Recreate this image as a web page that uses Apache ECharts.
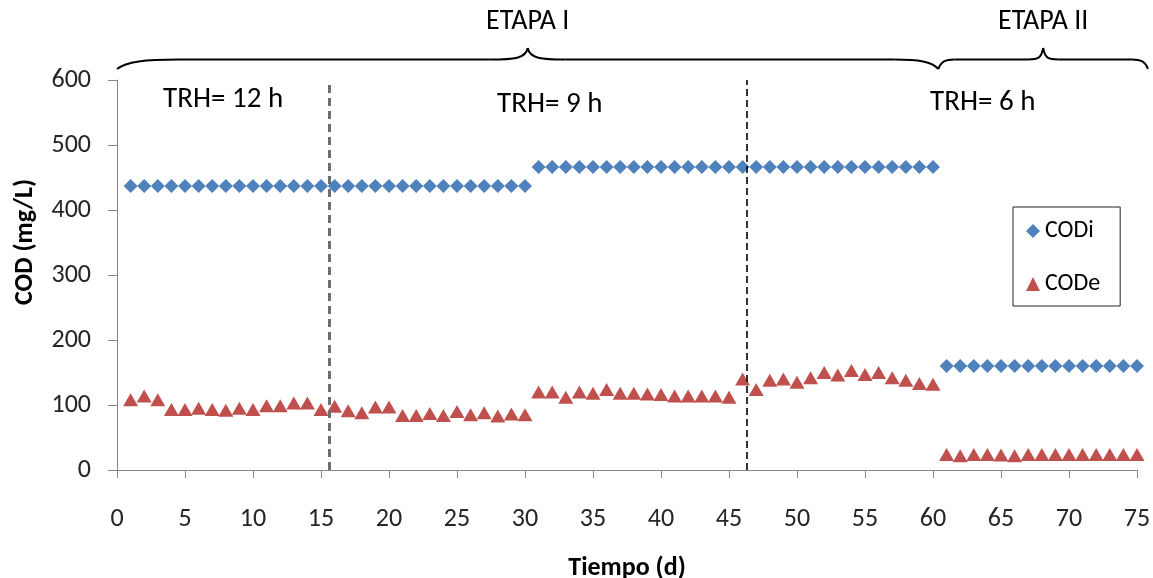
<!DOCTYPE html>
<html>
<head>
<meta charset="utf-8">
<script src="https://cdn.jsdelivr.net/npm/echarts@6/dist/echarts.min.js"></script>
<style>
  html, body { margin: 0; padding: 0; background: #fff; }
  #chart { width: 1153px; height: 578px; }
</style>
</head>
<body>
<div id="chart"></div>
<script>
// Operating days
const days = [
  1, 2, 3, 4, 5, 6, 7, 8, 9, 10, 11, 12, 13, 14, 15,
  16, 17, 18, 19, 20, 21, 22, 23, 24, 25, 26, 27, 28, 29, 30,
  31, 32, 33, 34, 35, 36, 37, 38, 39, 40, 41, 42, 43, 44, 45,
  46, 47, 48, 49, 50, 51, 52, 53, 54, 55, 56, 57, 58, 59, 60,
  61, 62, 63, 64, 65, 66, 67, 68, 69, 70, 71, 72, 73, 74, 75
];

// Influent COD (mg/L)
const codi = [
  437, 437, 437, 437, 437, 437, 437, 437, 437, 437, 437, 437, 437, 437, 437,
  437, 437, 437, 437, 437, 437, 437, 437, 437, 437, 437, 437, 437, 437, 437,
  466, 466, 466, 466, 466, 466, 466, 466, 466, 466, 466, 466, 466, 466, 466,
  466, 466, 466, 466, 466, 466, 466, 466, 466, 466, 466, 466, 466, 466, 466,
  160, 160, 160, 160, 160, 160, 160, 160, 160, 160, 160, 160, 160, 160, 160
];

// Effluent COD (mg/L)
const code = [
  108, 114, 108, 93, 93, 95, 93, 92, 95, 93, 99, 99, 103, 103, 93,
  98, 91, 88, 97, 97, 84, 84, 87, 84, 90, 85, 88, 83, 86, 85,
  120, 120, 112, 120, 118, 124, 118, 118, 117, 116, 114, 114, 114, 114, 112,
  140, 124, 138, 140, 135, 142, 150, 146, 153, 147, 150, 142, 138, 133, 132,
  24, 22, 24, 24, 23, 22, 24, 24, 24, 24, 24, 24, 24, 24, 24
];

// Days where the hydraulic retention time changes
const trhChanges = [15.6, 46.3];
const trhLabels = ['TRH= 12 h', 'TRH= 9 h', 'TRH= 6 h'];

// Stage spans (days) for the braces above the plot
const stageNames = ['ETAPA I', 'ETAPA II'];
const stageSpans = [[0, 60.4], [60.4, 75.8]];

const FONT = "Carlito, 'Open Sans', sans-serif";
const TEXT = '#262626';

const chart = echarts.init(document.getElementById('chart'), null, { renderer: 'canvas' });

const option = {
  animation: false,
  backgroundColor: '#fff',
  grid: { left: 117, right: 16, top: 80, bottom: 108, outerBoundsMode: 'none', containLabel: false },
  xAxis: {
    type: 'value',
    min: 0, max: 75, interval: 5,
    axisLine: { lineStyle: { color: '#868686', width: 1 } },
    axisTick: { length: 8, lineStyle: { color: '#868686' } },
    splitLine: { show: false },
    axisLabel: { color: TEXT, fontFamily: FONT, fontSize: 26, margin: 36 },
    name: 'Tiempo (d)',
    nameLocation: 'middle',
    nameGap: 85,
    nameTextStyle: { color: '#000', fontFamily: FONT, fontSize: 26, fontWeight: 'bold' }
  },
  yAxis: {
    type: 'value',
    min: 0, max: 600, interval: 100,
    axisLine: { show: true, lineStyle: { color: '#868686', width: 1 } },
    axisTick: { show: true, length: 9, lineStyle: { color: '#868686' } },
    splitLine: { show: false },
    axisLabel: { color: TEXT, fontFamily: FONT, fontSize: 26, margin: 26 }
  },
  legend: {
    orient: 'vertical',
    left: 1013, top: 207,
    padding: [12, 20, 10, 13],
    itemGap: 29,
    itemWidth: 14, itemHeight: 14,
    borderColor: '#222', borderWidth: 1,
    textStyle: { color: '#000', fontFamily: FONT, fontSize: 24 },
    data: [
      { name: 'CODi', icon: 'diamond' },
      { name: 'CODe', icon: 'triangle' }
    ]
  },
  series: [
    {
      name: 'CODi',
      type: 'scatter',
      symbol: 'diamond',
      symbolSize: [14, 14],
      itemStyle: { color: '#4F81BD', opacity: 1 },
      data: days.map((d, i) => [d, codi[i]]),
      markLine: {
        silent: true,
        symbol: ['none', 'none'],
        label: { show: false },
        data: [
          { xAxis: trhChanges[0], lineStyle: { color: '#6e6e6e', width: 3, type: [8, 5] } },
          { xAxis: trhChanges[1], lineStyle: { color: '#000', width: 1.6, type: [7, 4] } }
        ]
      },
      z: 3
    },
    {
      name: 'CODe',
      type: 'scatter',
      symbol: 'triangle',
      symbolSize: [15, 13],
      itemStyle: { color: '#C0504D', opacity: 1 },
      data: days.map((d, i) => [d, code[i]]),
      z: 3
    }
  ]
};

chart.setOption(option);

// Annotation layer: axis title, TRH labels and stage braces
function px(x) { return chart.convertToPixel({ xAxisIndex: 0 }, x); }

const BRACE_STYLE = { fill: null, stroke: '#000', lineWidth: 2 };

function curve(x1, y1, c1x, c1y, c2x, c2y, x2, y2) {
  return {
    type: 'bezierCurve', silent: true,
    shape: { x1: x1, y1: y1, cpx1: c1x, cpy1: c1y, cpx2: c2x, cpy2: c2y, x2: x2, y2: y2 },
    style: BRACE_STYLE
  };
}
function seg(x1, y1, x2, y2) {
  return { type: 'line', silent: true, shape: { x1: x1, y1: y1, x2: x2, y2: y2 }, style: BRACE_STYLE };
}

function brace(xa, xb, endA, endB, tipHalf) {
  const yEnd = 69, yLine = 59.5, yTip = 48;
  const xm = (xa + xb) / 2;
  return [
    curve(xa, yEnd, xa + endA * 0.15, yLine + 2, xa + endA * 0.45, yLine, xa + endA, yLine),
    seg(xa + endA, yLine, xm - tipHalf, yLine),
    curve(xm - tipHalf, yLine, xm - tipHalf * 0.35, yLine, xm - 2, yLine - 1, xm, yTip),
    curve(xm, yTip, xm + 2, yLine - 1, xm + tipHalf * 0.35, yLine, xm + tipHalf, yLine),
    seg(xm + tipHalf, yLine, xb - endB, yLine),
    curve(xb - endB, yLine, xb - endB * 0.45, yLine, xb - endB * 0.15, yLine + 2, xb, yEnd)
  ];
}

const braceShape = [[62, 44, 38], [16, 16, 15]];
let graphics = [];

stageSpans.forEach((s, i) => {
  const xa = px(s[0]), xb = px(s[1]);
  graphics = graphics.concat(brace(xa, xb, braceShape[i][0], braceShape[i][1], braceShape[i][2]));
  graphics.push({
    type: 'text',
    x: (xa + xb) / 2, y: 22,
    style: {
      text: stageNames[i], fill: '#000', font: '28px ' + FONT,
      textAlign: 'center', textVerticalAlign: 'middle'
    }
  });
});

// TRH labels placed inside each retention-time period
const trhAnchor = [[163, 100], [497, 105], [930, 103]];
trhLabels.forEach((t, i) => {
  graphics.push({
    type: 'text',
    x: trhAnchor[i][0], y: trhAnchor[i][1],
    style: {
      text: t, fill: '#000', font: '29px ' + FONT,
      textAlign: 'left', textVerticalAlign: 'middle'
    }
  });
});

// Rotated y-axis title
graphics.push({
  type: 'text',
  x: 25, y: 242,
  rotation: Math.PI / 2,
  style: {
    text: 'COD (mg/L)', fill: '#000', font: 'bold 26px ' + FONT,
    textAlign: 'center', textVerticalAlign: 'middle'
  }
});

chart.setOption({ graphic: graphics });
</script>
</body>
</html>
